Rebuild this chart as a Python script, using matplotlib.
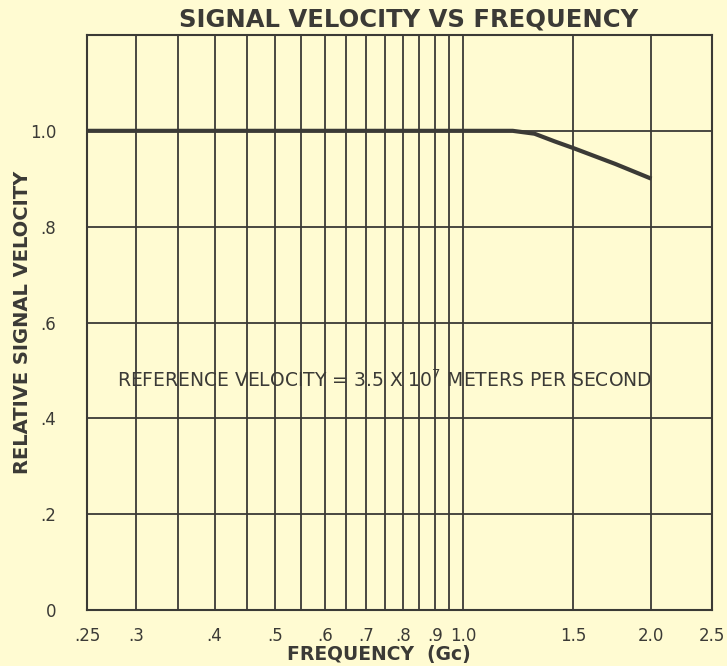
from matplotlib import pyplot as plt
from matplotlib.ticker import FixedLocator, NullFormatter

# curve (frequency in Gc, relative velocity)
freq = [0.25, 0.5, 1.0, 1.2, 1.3, 1.4, 1.5, 1.75, 2.0]
velocity = [1.0, 1.0, 1.0, 1.0, 0.994, 0.978, 0.964, 0.931, 0.900]

x_ticks = [0.25, 0.3, 0.4, 0.5, 0.6, 0.7, 0.8, 0.9, 1.0, 1.5, 2.0, 2.5]
x_tick_labels = ['.25', '.3', '.4', '.5', '.6', '.7', '.8', '.9', '1.0', '1.5', '2.0', '2.5']
x_minor = [0.35, 0.45, 0.55, 0.65, 0.75, 0.85, 0.95]
y_ticks = [0, 0.2, 0.4, 0.6, 0.8, 1.0]
y_tick_labels = ['0', '.2', '.4', '.6', '.8', '1.0']

BG = '#fffbd2'
INK = '#3b3a36'

fig = plt.figure(figsize=(7.27, 6.66), dpi=100, facecolor=BG)
ax = fig.add_axes([87 / 727, 56 / 666, 625 / 727, 575 / 666])
ax.set_facecolor(BG)

ax.set_xscale('log')
ax.set_xlim(0.25, 2.5)
ax.set_ylim(0, 1.2)

ax.xaxis.set_major_locator(FixedLocator(x_ticks))
ax.set_xticklabels(x_tick_labels)
ax.xaxis.set_minor_locator(FixedLocator(x_minor))
ax.xaxis.set_minor_formatter(NullFormatter())
ax.set_yticks(y_ticks + [1.2])
ax.set_yticklabels(y_tick_labels + [''])

ax.grid(True, which='both', axis='x', color=INK, linewidth=1.3)
ax.grid(True, which='major', axis='y', color=INK, linewidth=1.3)
ax.tick_params(which='both', length=0, labelsize=12, colors=INK)
ax.tick_params(axis='x', pad=12)
ax.tick_params(axis='y', pad=22)
for sp in ax.spines.values():
    sp.set_color(INK)
    sp.set_linewidth(1.5)

ax.plot(freq, velocity, color=INK, linewidth=3, solid_capstyle='butt', zorder=5)

ax.text(0.2795, 0.48, 'REFERENCE VELOCITY = 3.5 X 10$^{7}$ METERS PER SECOND',
        fontsize=13.5, color=INK, va='center', ha='left')

fig.text(409 / 727, 1 - 20 / 666, 'SIGNAL VELOCITY VS FREQUENCY', fontsize=17.5,
         fontweight='bold', color=INK, ha='center', va='center')
ax.set_xlabel('FREQUENCY  (Gc)', fontsize=13.5, fontweight='bold', color=INK)
ax.xaxis.set_label_coords((379 - 87) / 625, -(645 - 610) / 575)
ax.set_ylabel('RELATIVE SIGNAL VELOCITY', fontsize=14, fontweight='bold', color=INK)
ax.yaxis.set_label_coords(-(87 - 32) / 625, 0.5)

fig.savefig('out.png', dpi=100, facecolor=BG)
plt.close()
